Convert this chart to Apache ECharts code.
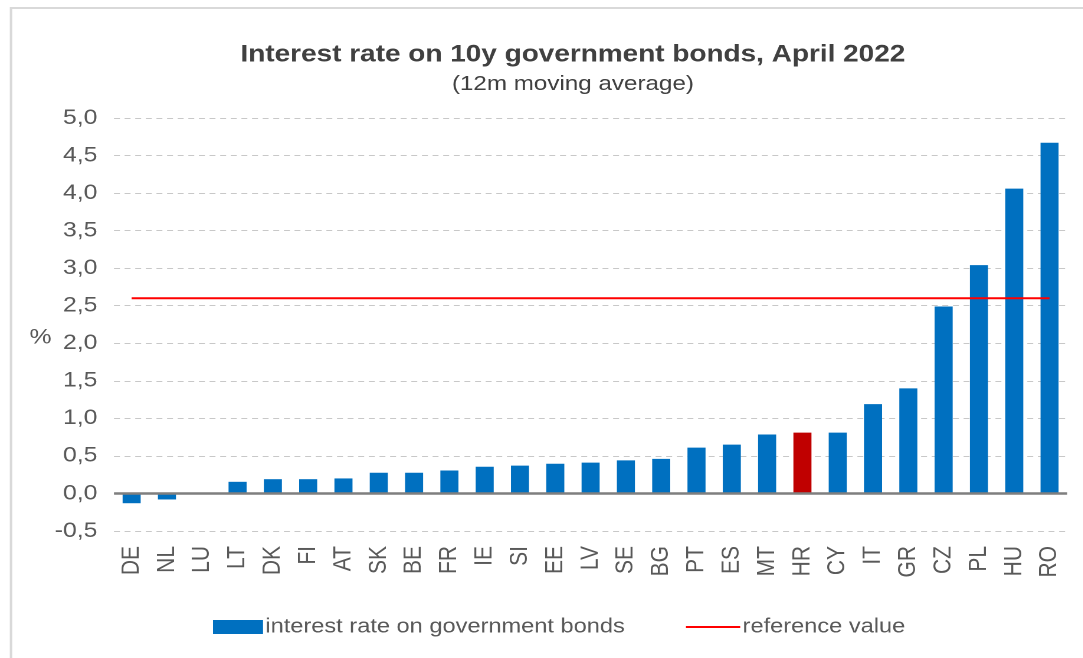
<!DOCTYPE html>
<html>
<head>
<meta charset="utf-8">
<script src="https://cdn.jsdelivr.net/npm/echarts@6/dist/echarts.min.js"></script>
<style>
html,body{margin:0;padding:0;background:#fff;overflow:hidden;}
#c{width:918px;height:658px;transform:scaleX(1.18);transform-origin:0 0;}
</style>
</head>
<body>
<div id="c"></div>
<script>
const categories = ['DE','NL','LU','LT','DK','FI','AT','SK','BE','FR','IE','SI','EE','LV','SE','BG','PT','ES','MT','HR','CY','IT','GR','CZ','PL','HU','RO'];
const rates = [-0.13,-0.08,0,0.155,0.19,0.19,0.20,0.275,0.275,0.305,0.355,0.37,0.395,0.41,0.44,0.46,0.61,0.65,0.785,0.81,0.81,1.19,1.40,2.49,3.04,4.06,4.67];
const referenceValue = 2.6;
const highlighted = 'HR';
const yTicks = {min:-0.5, max:5.0, step:0.5};

const FONT = '"Liberation Sans", Arial, sans-serif';
const chart = echarts.init(document.getElementById('c'), null, { devicePixelRatio: 2 });
const refLine = categories.map(() => referenceValue);
const barData = rates.map((v, i) => ({
  value: v,
  itemStyle: { color: categories[i] === highlighted ? '#C00000' : '#0070C0' }
}));

chart.setOption({
  animation: false,
  backgroundColor: '#ffffff',
  graphic: [
    { type: 'rect', shape: { x: 9.3, y: 8, width: 1000, height: 700 }, style: { fill: 'none', stroke: '#d9d9d9', lineWidth: 2 }, z: -1 },
    { type: 'text', left: 25, top: 327, style: { text: '%', fontSize: 21, fill: '#595959', fontFamily: FONT } }
  ],
  title: [
    { text: 'Interest rate on 10y government bonds, April 2022', left: 480.5, top: 38, textAlign: 'center',
      textStyle: { fontSize: 23.7, fontWeight: 'bold', color: '#404040', fontFamily: FONT } },
    { text: '(12m moving average)', left: 480.5, top: 69, textAlign: 'center',
      textStyle: { fontSize: 20.5, fontWeight: 'normal', color: '#404040', fontFamily: FONT } }
  ],
  grid: { left: 96.6, right: 13.6, top: 118, bottom: 127, containLabel: false },
  legend: [
    {
      left: 175.5, top: 612, itemWidth: 42.4, itemHeight: 14, itemGap: 10,
      textStyle: { fontSize: 20, color: '#595959', fontFamily: FONT, padding: [0,0,0,-3] },
      data: [{ name: 'interest rate on government bonds', icon: 'rect' }]
    },
    {
      left: 576.3, top: 612, itemWidth: 46, itemHeight: 2, itemGap: 10,
      textStyle: { fontSize: 20, color: '#595959', fontFamily: FONT, padding: [0,0,0,-3] },
      data: [{ name: 'reference value', icon: 'rect' }]
    }
  ],
  xAxis: {
    type: 'category',
    data: categories,
    axisLine: { show: false },
    axisTick: { show: false },
    axisLabel: { rotate: 90, interval: 0, margin: 15, fontSize: 21, color: '#595959', fontFamily: FONT },
    splitLine: { show: false }
  },
  yAxis: {
    type: 'value',
    min: yTicks.min, max: yTicks.max, interval: yTicks.step,
    axisLine: { show: false },
    axisTick: { show: false },
    axisLabel: { margin: 14, fontSize: 21, color: '#595959', fontFamily: FONT,
      formatter: v => v.toFixed(1).replace('.', ',') },
    splitLine: { lineStyle: { color: '#c8c8c8', type: [5, 4], width: 1 } }
  },
  series: [
    {
      name: 'interest rate on government bonds',
      type: 'bar',
      data: barData,
      barWidth: 15.3,
      itemStyle: { color: '#0070C0' },
      markLine: {
        silent: true, symbol: 'none', label: { show: false },
        lineStyle: { color: '#7f7f7f', type: 'solid', width: 2.5 },
        data: [{ yAxis: 0 }]
      },
      z: 2
    },
    {
      name: 'reference value',
      type: 'line',
      data: refLine,
      symbol: 'none',
      lineStyle: { color: '#FF0000', width: 2 },
      itemStyle: { color: '#FF0000' },
      z: 3
    }
  ]
});
</script>
</body>
</html>
